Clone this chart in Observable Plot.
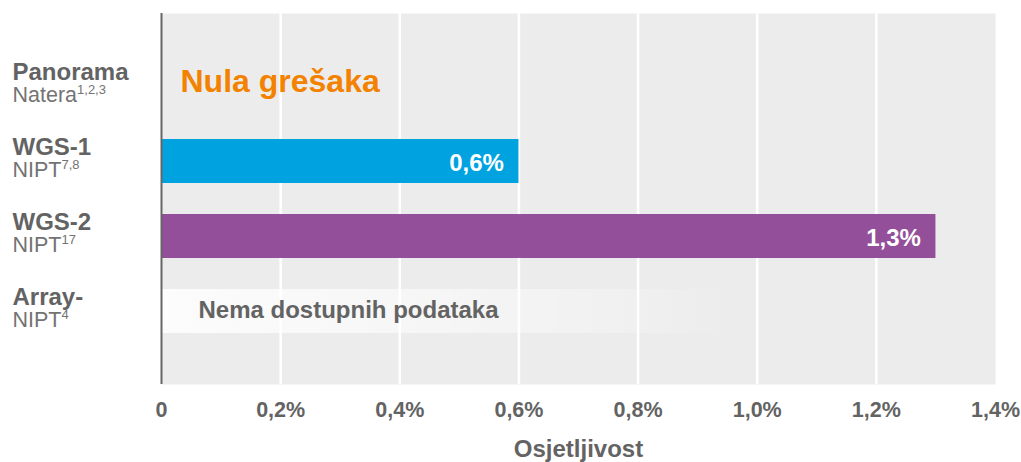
<!DOCTYPE html>
<html>
<head>
<meta charset="utf-8">
<script src="https://cdn.jsdelivr.net/npm/d3@7"></script>
<script src="https://cdn.jsdelivr.net/npm/@observablehq/plot@0.6"></script>
<style>
  html, body { margin: 0; padding: 0; background: #fff; }
  #chart svg { display: block; }
</style>
</head>
<body>
<div id="chart"></div>
<script>
// ---- data ----
const categories = ["Panorama", "WGS-1", "WGS-2", "Array-"];
const subLabels = ["Natera", "NIPT", "NIPT", "NIPT"];
const superscripts = ["1,2,3", "7,8", "17", "4"];
const values = [0, 0.6, 1.3, null];
const valueLabels = ["", "0,6%", "1,3%", ""];
const colors = ["#f28200", "#00a3e0", "#934f9a", "#ffffff"];
const xTicks = [0, 0.2, 0.4, 0.6, 0.8, 1.0, 1.2, 1.4];
const zeroNote = "Nula grešaka";
const noDataNote = "Nema dostupnih podataka";
const noDataExtent = 0.96;
const axisTitle = "Osjetljivost";

const rows = categories.map((c, i) => ({
  cat: c, sub: subLabels[i], sup: superscripts[i], value: values[i],
  label: valueLabels[i], color: colors[i]
}));
const bars = rows.filter(d => d.value != null && d.value > 0);
const grey = "#636363";
const sans = "'Liberation Sans', Arial, Helvetica, sans-serif";

const fmt = d => d === 0 ? "0" : d3.format(".1f")(d).replace(".", ",") + "%";

const plot = Plot.plot({
  width: 1021,
  height: 462,
  marginTop: 13,
  marginBottom: 78,
  marginLeft: 161,
  marginRight: 26,
  style: { fontFamily: sans, background: "#fff" },
  x: { domain: [0, 1.4], axis: null },
  y: { domain: categories, axis: null, paddingInner: 0.42, paddingOuter: 0.66 },
  marks: [
    Plot.frame({ fill: "#ececec", stroke: null }),
    Plot.barX([rows[3]], { x1: 0, x2: () => noDataExtent, y: "cat", fill: "url(#fadeGrad)" }),
    Plot.gridX(xTicks.filter(t => t > 0 && t < 1.4), { stroke: "#ffffff", strokeOpacity: 1, strokeWidth: 2.5 }),
    Plot.barX(bars, { x: "value", y: "cat", fill: "color" }),
    Plot.ruleX([0], { stroke: "#666", strokeWidth: 2 }),
    Plot.text(bars, { x: "value", y: "cat", text: "label", textAnchor: "end", dx: -15, dy: 2,
      fill: "#fff", fontWeight: "bold", fontSize: 24 }),
    Plot.text([rows[0]], { x: 0, y: "cat", text: () => zeroNote, textAnchor: "start", dx: 19, dy: -5,
      fill: "#f28200", fontWeight: "bold", fontSize: 32 }),
    Plot.text([rows[3]], { x: 0, y: "cat", text: () => noDataNote, textAnchor: "start", dx: 37, dy: -1,
      fill: grey, fontWeight: "bold", fontSize: 24 }),
    Plot.text(rows, { x: 0, y: "cat", text: "cat", textAnchor: "start", dx: -149, dy: -7, lineAnchor: "bottom",
      fill: grey, fontWeight: "bold", fontSize: 24 }),
    Plot.text(rows, { x: 0, y: "cat", text: "sub", textAnchor: "start", dx: -149, dy: 15, lineAnchor: "bottom",
      fill: "#737373", fontSize: 21.5, letterSpacing: 1.3 }),
    Plot.text(xTicks, { x: d => d, frameAnchor: "bottom", text: fmt, lineAnchor: "middle", dy: 26,
      fill: grey, fontWeight: "bold", fontSize: 21.5 }),
    Plot.text([axisTitle], { frameAnchor: "bottom", text: d => d, lineAnchor: "middle", dy: 65,
      fill: grey, fontWeight: "bold", fontSize: 24 })
  ]
});

const svg = d3.select(plot);
const defs = svg.insert("defs", ":first-child");
const grad = defs.append("linearGradient").attr("id", "fadeGrad")
  .attr("x1", "0").attr("x2", "1").attr("y1", "0").attr("y2", "0");
grad.append("stop").attr("offset", "0").attr("stop-color", "#ffffff").attr("stop-opacity", 0.85);
grad.append("stop").attr("offset", "0.45").attr("stop-color", "#ffffff").attr("stop-opacity", 0.55);
grad.append("stop").attr("offset", "0.8").attr("stop-color", "#ffffff").attr("stop-opacity", 0.25);
grad.append("stop").attr("offset", "1").attr("stop-color", "#ffffff").attr("stop-opacity", 0);

const subSet = new Set(subLabels);
let idx = 0;
svg.selectAll("text").filter(function () {
  return subSet.has(this.textContent) && this.getAttribute("font-weight") !== "bold";
}).each(function () {
  const row = rows[idx++];
  if (!row) return;
  d3.select(this).append("tspan")
    .attr("font-size", 13)
    .attr("letter-spacing", 0)
    .attr("dy", "-8")
    .text(row.sup);
});

document.getElementById("chart").appendChild(plot);
</script>
</body>
</html>
